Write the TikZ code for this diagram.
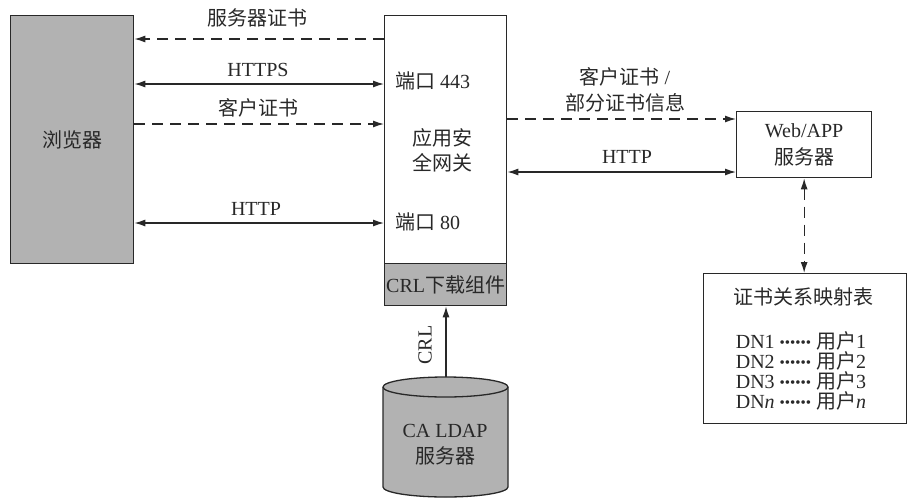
\documentclass[tikz,border=0pt]{standalone}
\usepackage{fontspec}
\setmainfont{Liberation Serif}
\newfontfamily\cjk{Noto Sans CJK SC}
\usetikzlibrary{arrows.meta}
\newcommand\zh[1]{{\cjk #1}}
\newcommand\dotrow{{\fontsize{15pt}{15pt}\selectfont\raisebox{1pt}{••••••}}}
\definecolor{boxgray}{RGB}{178,178,178}
\definecolor{ink}{RGB}{40,40,40}
\begin{document}
\begin{tikzpicture}[x=1pt,y=-1pt,
  box/.style={draw=ink, line width=1.3pt},
  lbl/.style={font=\fontsize{20pt}{26pt}\selectfont, inner sep=0pt, text=ink},
  conn/.style={line width=1.3pt, draw=ink, -{Latex[length=11pt,width=7pt]}},
  bconn/.style={line width=1.3pt, draw=ink, {Latex[length=11pt,width=7pt]}-{Latex[length=11pt,width=7pt]}},
  dashline/.style={dash pattern=on 11pt off 7pt}
]
\path[use as bounding box] (0,0) rectangle (913,501);

% boxes
\node[box, fill=boxgray, minimum width=123pt, minimum height=248pt, anchor=north west, lbl] (browser) at (10,15) {\zh{浏览器}};
\node[box, fill=white, minimum width=122pt, minimum height=248pt, anchor=north west] (gw) at (384,15) {};
\node[box, fill=boxgray, minimum width=122pt, minimum height=42pt, anchor=north west, lbl] (crl) at (384,263) {CRL\zh{下载组件}};
\node[box, fill=white, minimum width=135pt, minimum height=66pt, anchor=north west, lbl, align=center, font=\fontsize{20pt}{27pt}\selectfont] (web) at (736,111) {Web/APP\\\zh{服务器}};
\node[box, fill=white, minimum width=203pt, minimum height=150pt, anchor=north west] (map) at (703,273) {};

% texts inside gateway
\node[lbl, anchor=west] (p443) at (395,81) {\zh{端口} 443};
\node[lbl, align=center, font=\fontsize{20pt}{25pt}\selectfont] (gwname) at (442,150) {\zh{应用安}\\\zh{全网关}};
\node[lbl, anchor=west] (p80) at (395,222) {\zh{端口} 80};

% mapping table texts
\node[lbl] (maptitle) at (803,297) {\zh{证书关系映射表}};
\node[lbl, align=left, font=\fontsize{20pt}{20pt}\selectfont] (rows) at (801,371)
  {DN1 \dotrow{} \zh{用户}1\\DN2 \dotrow{} \zh{用户}2\\DN3 \dotrow{} \zh{用户}3\\DN\textit{n} \dotrow{} \zh{用户}\textit{n}};

% cylinder
\fill[boxgray] (383,387) -- (383,487) arc[start angle=180, end angle=360, x radius=62.5pt, y radius=10pt]
  -- (508,387) arc[start angle=0, end angle=180, x radius=62.5pt, y radius=10pt] -- cycle;
\draw[line width=1.3pt, draw=ink] (383,387) -- (383,487) arc[start angle=180, end angle=360, x radius=62.5pt, y radius=10pt]
  -- (508,387) arc[start angle=0, end angle=180, x radius=62.5pt, y radius=10pt];
\draw[line width=1.3pt, draw=ink] (383,387) arc[start angle=180, end angle=360, x radius=62.5pt, y radius=10pt];
\coordinate (cyltop) at (446,377);
\node[lbl, align=center] (ca) at (445,445) {CA LDAP\\\zh{服务器}};

% left connectors
\draw[conn, dashline] (gw.west |- 0,39) -- (browser.east |- 0,39);
\node[lbl] (l1) at (257,18) {\zh{服务器证书}};
\draw[bconn] (browser.east |- 0,84) -- (gw.west |- 0,84);
\node[lbl] (l2) at (258,70) {HTTPS};
\draw[conn, dashline] (browser.east |- 0,124) -- (gw.west |- 0,124);
\node[lbl] (l3) at (258,108) {\zh{客户证书}};
\draw[bconn] (browser.east |- 0,223) -- (gw.west |- 0,223);
\node[lbl] (l4) at (256,209) {HTTP};

% right connectors
\draw[conn, dashline] (gw.east |- 0,119) -- (web.west |- 0,119);
\node[lbl, align=center] (l5) at (625,90) {\zh{客户证书} /\\\zh{部分证书信息}};
\draw[bconn] (gw.east |- 0,172) -- (web.west |- 0,172);
\node[lbl] (l6) at (627,157) {HTTP};
\draw[bconn, dashline] (web.south) -- (web.south |- map.north);

% CRL connector
\draw[conn] (cyltop) -- (cyltop |- crl.south);
\node[lbl, rotate=90] (l7) at (425,345) {CRL};
\end{tikzpicture}
\end{document}
